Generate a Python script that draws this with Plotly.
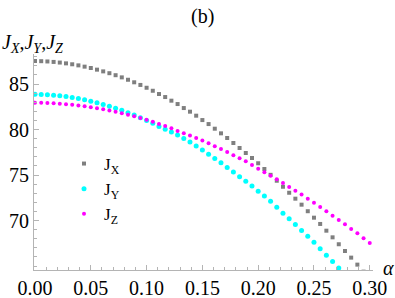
import numpy as np
import plotly.graph_objects as go

# sample grid of alpha (55 points from 0 to 0.30)
alpha = np.linspace(0.0, 0.30, 55)

J_X = [87.53, 87.51, 87.48, 87.43, 87.36, 87.27, 87.17, 87.05, 86.91, 86.76,
       86.58, 86.39, 86.19, 85.97, 85.73, 85.47, 85.19, 84.90, 84.59, 84.26,
       83.90, 83.57, 83.17, 82.80, 82.36, 81.96, 81.52, 81.04, 80.60, 80.09,
       79.58, 79.07, 78.52, 77.97, 77.42, 76.87, 76.29, 75.66, 75.02, 74.37,
       73.71, 73.05, 72.40, 71.74, 71.02, 70.31, 69.62, 68.88, 68.15, 67.39,
       66.65, 65.92, 65.15, 64.38, 63.60]
J_Y = [83.87, 83.85, 83.82, 83.77, 83.70, 83.62, 83.52, 83.40, 83.27, 83.11,
       82.95, 82.76, 82.56, 82.34, 82.11, 81.85, 81.59, 81.30, 81.00, 80.68,
       80.33, 80.03, 79.73, 79.39, 79.01, 78.62, 78.19, 77.75, 77.29, 76.81,
       76.36, 75.83, 75.33, 74.80, 74.31, 73.79, 73.21, 72.69, 72.11, 71.45,
       70.80, 70.18, 69.56, 68.91, 68.26, 67.60, 66.90, 66.18, 65.50, 64.78,
       64.05, 63.30, 62.55, 61.80, 61.05]
J_Z = [82.95, 82.94, 82.92, 82.88, 82.84, 82.79, 82.72, 82.64, 82.55, 82.45,
       82.35, 82.22, 82.09, 81.95, 81.80, 81.63, 81.45, 81.27, 81.07, 80.86,
       80.60, 80.38, 80.13, 79.84, 79.58, 79.33, 79.07, 78.78, 78.48, 78.16,
       77.86, 77.53, 77.16, 76.84, 76.51, 76.10, 75.70, 75.30, 74.93, 74.54,
       74.12, 73.68, 73.27, 72.86, 72.40, 71.96, 71.49, 71.01, 70.53, 70.05,
       69.59, 69.07, 68.60, 68.06, 67.54]

x_ticks = [0.00, 0.05, 0.10, 0.15, 0.20, 0.25, 0.30]
y_ticks = [70, 75, 80, 85]

SERIF = "Liberation Serif"
AXC = "#b4b4b4"

fig = go.Figure()
fig.add_trace(go.Scatter(x=alpha, y=J_X, mode="markers", name="J<sub>X</sub>",
                         marker=dict(symbol="square", size=4, color="#7f7f7f")))
fig.add_trace(go.Scatter(x=alpha, y=J_Y, mode="markers", name="J<sub>Y</sub>",
                         marker=dict(symbol="circle", size=5, color="#00ffff")))
fig.add_trace(go.Scatter(x=alpha, y=J_Z, mode="markers", name="J<sub>Z</sub>",
                         marker=dict(symbol="circle", size=4, color="#ff00ff")))

L, T, W, H = 34, 54, 339, 216


def px(xp):
    return (xp - L) / W


def py(yp):
    return (T + H - yp) / H


fig.update_layout(
    width=395, height=298,
    margin=dict(l=L, r=395 - L - W, t=T, b=298 - T - H, autoexpand=False),
    paper_bgcolor="white", plot_bgcolor="white",
    font=dict(family=SERIF, size=20, color="black"),
    showlegend=True,
    legend=dict(x=px(64), y=py(146), xanchor="left", yanchor="top",
                bgcolor="rgba(0,0,0,0)", font=dict(family=SERIF, size=17),
                itemwidth=30, tracegroupgap=0),
    xaxis=dict(range=[-0.0009, 0.3029], showline=True, linecolor=AXC, linewidth=1,
               ticks="inside", ticklen=5, tickcolor=AXC, tickvals=x_ticks,
               tickformat=".2f", showgrid=False, zeroline=False, automargin=False,
               minor=dict(dtick=0.01, tick0=0, ticks="inside", ticklen=3, tickcolor=AXC),
               tickfont=dict(family=SERIF, size=20)),
    yaxis=dict(range=[64.56, 88.3], showline=True, linecolor=AXC, linewidth=1,
               ticks="inside", ticklen=5, tickcolor=AXC, tickvals=y_ticks,
               showgrid=False, zeroline=False, automargin=False,
               minor=dict(dtick=1, tick0=0, ticks="inside", ticklen=3, tickcolor=AXC),
               tickfont=dict(family=SERIF, size=20)),
    annotations=[
        dict(text="(b)", x=px(202), y=py(16), xref="paper", yref="paper",
             xanchor="center", yanchor="middle", showarrow=False,
             font=dict(family=SERIF, size=20)),
        dict(text="<i>J</i><sub><i>X</i></sub>,<i>J</i><sub><i>Y</i></sub>,<i>J</i><sub><i>Z</i></sub>",
             x=px(0), y=py(43), xref="paper", yref="paper",
             xanchor="left", yanchor="middle", showarrow=False,
             font=dict(family=SERIF, size=20)),
        dict(text="<i>α</i>", x=px(388), y=py(268), xref="paper", yref="paper",
             xanchor="center", yanchor="middle", showarrow=False,
             font=dict(family=SERIF, size=20)),
    ],
)

fig.write_html("out.html", config={"displayModeBar": False},
               post_script="document.body.style.margin='0';document.body.style.padding='0';")
